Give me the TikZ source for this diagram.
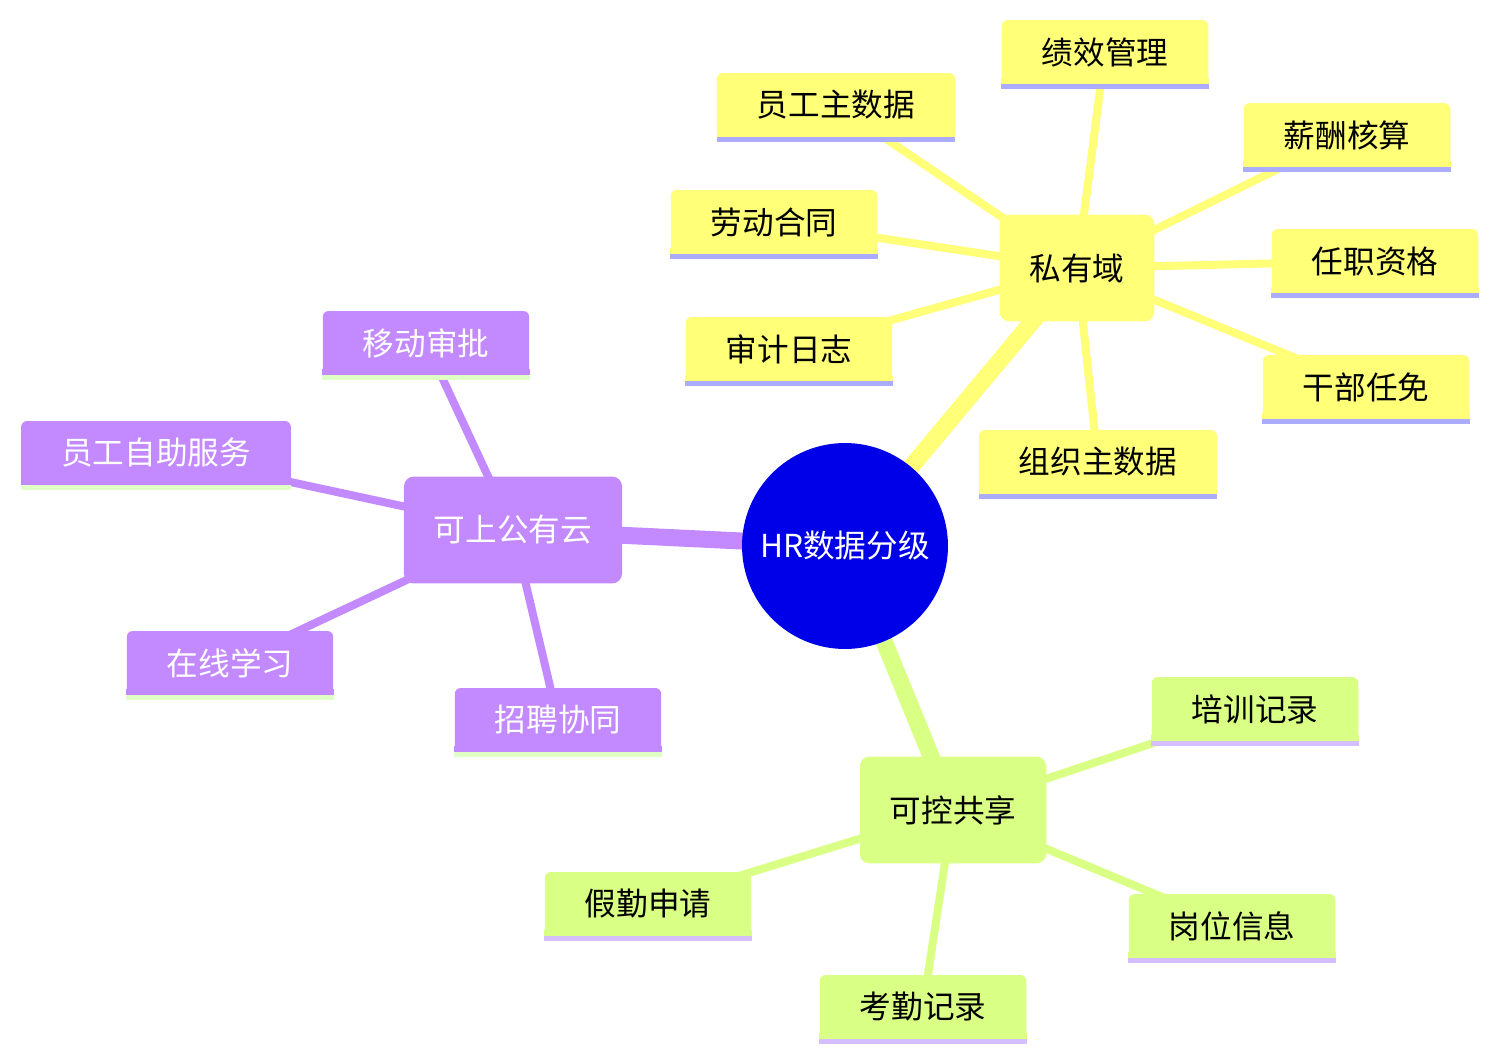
\documentclass[tikz,border=0pt]{standalone}
\usepackage{fontspec}
\setmainfont{Noto Sans CJK SC}
\usetikzlibrary{backgrounds}

\definecolor{rootblue}{RGB}{0,0,232}
\definecolor{privfill}{RGB}{255,255,120}
\definecolor{privline}{RGB}{172,172,255}
\definecolor{pubfill}{RGB}{195,137,255}
\definecolor{publine}{RGB}{224,255,196}
\definecolor{ctrlfill}{RGB}{217,255,132}
\definecolor{ctrlline}{RGB}{212,190,255}

\tikzset{
  rootnode/.style={circle, fill=rootblue, text=white, minimum size=4.12cm, inner sep=0pt},
  section/.style={rectangle, rounded corners=0.2cm, minimum height=2.14cm, inner xsep=0.6cm},
  leaf/.style={rectangle, rounded corners=0.12cm, minimum height=1.28cm, inner xsep=0.8cm, inner ysep=0pt},
  trunk/.style={line width=0.34cm},
  twig/.style={line width=0.16cm},
}

\begin{document}
\begin{tikzpicture}[x=0.02cm, y=-0.02cm, font=\fontsize{18}{22}\selectfont]
\useasboundingbox (0,0) rectangle (1499,1062);

% Root and the three sections
\node[rootnode] (root) at (845,546) {HR数据分级};
\node[section, fill=privfill] (priv) at (1077,268) {私有域};
\node[section, fill=pubfill, text=white] (pub) at (513,530) {可上公有云};
\node[section, fill=ctrlfill] (ctrl) at (953,810) {可控共享};

\begin{scope}[on background layer]
\draw[trunk, privfill] (root.center) -- (priv.center);
\draw[trunk, pubfill] (root.center) -- (pub.center);
\draw[trunk, ctrlfill] (root.center) -- (ctrl.center);
\end{scope}

% Private leaves
\foreach \n/\x/\y/\t in {p1/836/105/员工主数据, p2/1105/52/绩效管理,
  p3/1347/135/薪酬核算, p4/774/222/劳动合同, p5/1375/261/任职资格,
  p6/789/349/审计日志, p7/1366/387/干部任免, p8/1098/462/组织主数据}
{
\node[leaf, fill=privfill] (\n) at (\x,\y) {\t};
\fill[privfill] ([yshift=0.12cm]\n.south west) rectangle (\n.south east);
\fill[privline] (\n.south west) rectangle ([yshift=-0.1cm]\n.south east);
\begin{scope}[on background layer]
\draw[twig, privfill] (priv.center) -- (\n.center);
\end{scope}
}

% Public cloud leaves
\foreach \n/\x/\y/\t in {u1/426/343/移动审批, u2/156/453/员工自助服务,
  u3/230/663/在线学习, u4/558/720/招聘协同}
{
\node[leaf, fill=pubfill, text=white] (\n) at (\x,\y) {\t};
\fill[pubfill] ([yshift=0.12cm]\n.south west) rectangle (\n.south east);
\fill[publine] (\n.south west) rectangle ([yshift=-0.1cm]\n.south east);
\begin{scope}[on background layer]
\draw[twig, pubfill] (pub.center) -- (\n.center);
\end{scope}
}

% Controlled sharing leaves
\foreach \n/\x/\y/\t in {c1/1255/709/培训记录, c2/648/904/假勤申请,
  c3/1232/926/岗位信息, c4/923/1007/考勤记录}
{
\node[leaf, fill=ctrlfill] (\n) at (\x,\y) {\t};
\fill[ctrlfill] ([yshift=0.12cm]\n.south west) rectangle (\n.south east);
\fill[ctrlline] (\n.south west) rectangle ([yshift=-0.1cm]\n.south east);
\begin{scope}[on background layer]
\draw[twig, ctrlfill] (ctrl.center) -- (\n.center);
\end{scope}
}

\end{tikzpicture}
\end{document}
